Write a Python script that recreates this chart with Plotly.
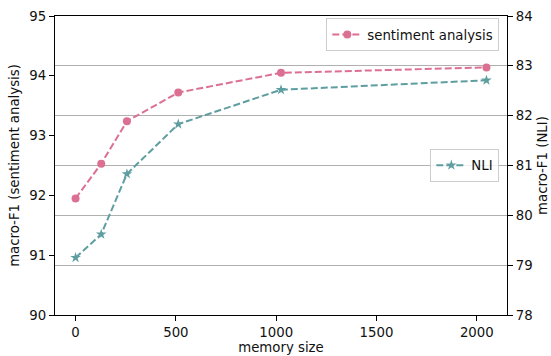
import plotly.graph_objects as go

memory_size = [0, 128, 256, 512, 1024, 2048]
sentiment_f1 = [91.95, 92.53, 93.24, 93.72, 94.05, 94.14]
nli_f1 = [79.15, 79.62, 80.83, 81.83, 82.52, 82.71]
x_ticks = [0, 500, 1000, 1500, 2000]
left_ticks = [90, 91, 92, 93, 94, 95]
right_ticks = [78, 79, 80, 81, 82, 83, 84]

pink = "#DB7093"
teal = "#5F9EA0"
font = "DejaVu Sans"
fs = 13.3
txt = "#111"

fig = go.Figure()
fig.add_trace(go.Scatter(
    x=memory_size, y=sentiment_f1, name="sentiment analysis",
    mode="lines+markers", yaxis="y", legend="legend", showlegend=True,
    line=dict(color=pink, width=2, dash="7px,3px"),
    marker=dict(symbol="circle", size=8, color=pink),
))
fig.add_trace(go.Scatter(
    x=memory_size, y=nli_f1, name="NLI",
    mode="lines+markers", yaxis="y2", legend="legend2", showlegend=True,
    line=dict(color=teal, width=2, dash="7px,3px"),
    marker=dict(symbol="star", size=8, color=teal),
))

axis_common = dict(
    showline=True, linecolor="black", linewidth=1.1,
    ticks="outside", ticklen=5, tickwidth=1.1, tickcolor="black",
    zeroline=False, automargin=False,
    tickfont=dict(family=font, size=fs, color=txt),
)

legend_common = dict(
    bgcolor="rgba(255,255,255,0.8)", bordercolor="#cccccc", borderwidth=1,
    font=dict(family=font, size=fs, color=txt),
    itemwidth=30, tracegroupgap=0,
)

fig.update_layout(
    width=551, height=356,
    margin=dict(l=55, r=44, t=16, b=41, pad=0),
    paper_bgcolor="white", plot_bgcolor="white",
    font=dict(family=font, size=fs, color=txt),
    showlegend=True,
    xaxis=dict(
        range=[-102.4, 2150.4], tickvals=x_ticks, showgrid=False, mirror=True,
        title=dict(text="memory size", standoff=3, font=dict(family=font, size=fs, color=txt)),
        **axis_common,
    ),
    yaxis=dict(
        range=[90, 95], tickvals=left_ticks, showgrid=False, mirror=True,
        title=dict(text="macro-F1 (sentiment analysis)", standoff=6, font=dict(family=font, size=fs, color=txt)),
        **axis_common,
    ),
    yaxis2=dict(
        range=[78, 84], tickvals=right_ticks, overlaying="y", side="right",
        showgrid=True, gridcolor="#b0b0b0", gridwidth=1,
        title=dict(text="macro-F1 (NLI)", standoff=6, font=dict(family=font, size=fs, color=txt)),
        **axis_common,
    ),
    legend=dict(x=0.983, y=0.992, xanchor="right", yanchor="top", **legend_common),
    legend2=dict(x=0.983, y=0.5, xanchor="right", yanchor="middle", **legend_common),
)

fig.write_html("out.html")
